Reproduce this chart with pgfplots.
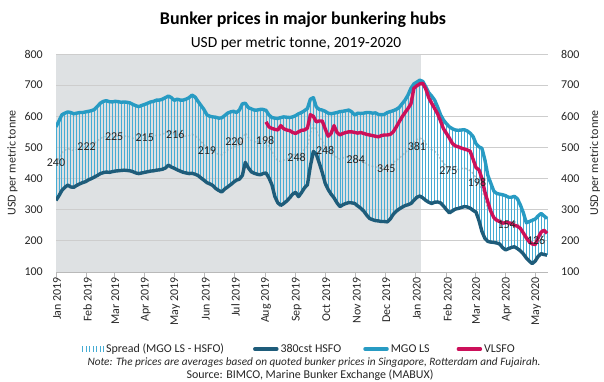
\documentclass[border=0pt]{standalone}
\usepackage{pgfplots}
\pgfplotsset{compat=1.18}
\usepackage{pgfplotstable}
\usepackage{fontspec}
\setmainfont{Carlito}
\definecolor{mgoc}{RGB}{40,155,195}
\definecolor{hsfoc}{RGB}{30,92,122}
\definecolor{vlsfoc}{RGB}{204,16,90}
\definecolor{spreadc}{RGB}{70,172,212}
\definecolor{shadec}{RGB}{222,225,227}
\definecolor{gridc}{RGB}{205,205,205}
\definecolor{txtc}{RGB}{38,38,38}

\pgfplotstableread{
d hsfo mgo vlsfo
0 330 566 nan
3 345 585 nan
6 362 605 nan
9 372 610 nan
12 379 614 nan
15 373 612 nan
18 372 608 nan
21 378 610 nan
24 383 612 nan
27 387 612 nan
30 390 614 nan
33 396 616 nan
36 400 618 nan
39 405 622 nan
42 410 632 nan
45 416 642 nan
48 419 648 nan
51 421 650 nan
54 420 647 nan
57 422 646 nan
60 424 648 nan
63 425 647 nan
66 426 645 nan
69 427 646 nan
72 426 645 nan
75 425 643 nan
78 422 638 nan
81 418 634 nan
84 416 631 nan
87 418 635 nan
90 420 638 nan
93 422 642 nan
96 424 646 nan
99 425 648 nan
102 427 652 nan
105 428 652 nan
108 430 655 nan
111 434 660 nan
114 443 665 nan
117 437 660 nan
120 433 651 nan
123 428 655 nan
126 424 652 nan
129 420 652 nan
132 418 655 nan
135 416 660 nan
138 417 668 nan
141 414 662 nan
144 410 648 nan
147 402 635 nan
150 395 622 nan
153 387 605 nan
156 383 600 nan
159 378 598 nan
162 368 597 nan
165 362 594 nan
168 357 595 nan
171 366 602 nan
174 373 610 nan
177 380 614 nan
180 388 616 nan
183 395 612 nan
186 398 620 nan
189 410 640 nan
192 452 642 nan
195 435 628 nan
198 422 624 nan
201 417 620 nan
204 414 620 nan
207 412 622 nan
210 416 622 nan
213 418 619 582
216 402 604 566
219 380 596 561
222 342 594 558
225 322 593 556
228 314 596 570
231 320 598 560
234 328 597 556
237 338 596 554
240 350 598 548
243 356 602 545
246 342 608 550
249 355 612 555
252 370 618 556
255 380 625 562
258 440 655 605
261 487 660 600
264 478 630 582
267 450 622 585
270 420 620 585
273 385 616 560
276 365 610 536
279 350 608 545
282 338 610 570
285 322 612 548
288 310 615 540
291 316 616 545
294 320 618 548
297 323 620 550
300 322 614 550
303 320 604 548
306 312 610 546
309 305 609 548
312 296 610 545
315 283 612 542
318 272 612 540
321 268 610 538
324 265 611 536
327 264 606 534
330 262 605 538
333 262 606 540
336 261 612 540
339 270 615 542
342 285 618 550
345 295 622 565
348 302 628 582
351 308 640 598
354 313 652 612
357 316 668 625
360 320 690 640
363 330 704 690
366 340 710 698
369 344 716 704
372 338 712 706
375 330 695 688
378 324 676 660
381 320 665 642
384 324 652 625
387 325 630 608
390 322 605 585
393 312 588 560
396 300 576 545
399 290 566 530
402 296 560 513
405 302 556 505
408 304 555 502
411 307 556 498
414 310 557 495
417 309 553 492
420 305 546 488
423 298 535 462
426 292 512 435
429 265 502 428
432 230 497 400
435 208 460 357
438 198 410 325
441 196 385 295
444 195 360 275
447 193 352 266
450 190 350 262
453 178 348 257
456 171 345 258
459 175 340 258
462 179 340 256
465 181 343 250
468 175 335 247
471 168 315 240
474 158 290 225
477 145 258 210
480 135 262 197
483 127 266 190
486 135 270 188
489 150 280 210
492 159 288 228
495 156 280 234
498 154 272 224
}\data

\pgfplotstableread{
d y lab
0 450 240
31 502 222
59 533 225
90 530 215
121 543 216
153 489 219
181 518 220
212 523 198
244 469 248
273 491 248
304 462 284
335 432 345
366 504 381
398 427 275
427 389 198
457 253 154
487 202 126
}\labels

\newcommand{\tf}{\fontsize{12}{14}\selectfont}

\begin{document}
\begin{tikzpicture}
\begin{axis}[
  set layers,
  at={(56bp,110bp)}, anchor=south west,
  scale only axis, width=492bp, height=218bp,
  xmin=0, xmax=499, ymin=100, ymax=800,
  axis x line*=bottom, axis y line*=left,
  y axis line style={draw=none}, ytick style={draw=none},
  x axis line style={color=gray!55, line width=0.8bp},
  xtick style={color=gray!55, line width=0.8bp},
  tick align=outside, major tick length=5bp,
  xtick={0,31,59,90,120,151,181,212,243,273,304,334,365,396,425,456,486},
  xticklabels={Jan 2019,Feb 2019,Mar 2019,Apr 2019,May 2019,Jun 2019,Jul 2019,Aug 2019,Sep 2019,Oct 2019,Nov 2019,Dec 2019,Jan 2020,Feb 2020,Mar 2020,Apr 2020,May 2020},
  xticklabel style={rotate=90, anchor=east, font=\tf, text=txtc, inner sep=0pt, yshift=-1bp},
  ytick={100,200,...,800},
  yticklabel style={font=\tf, text=txtc, inner sep=0pt, xshift=-8bp},
  ymajorgrids, grid style={color=gridc, line width=0.8bp},
  /pgf/number format/assume math mode=true,
  ylabel={USD per metric tonne},
  ylabel style={at={(axis description cs:-0.0884,0.5)}, anchor=center, font=\tf, text=txtc},
  clip mode=individual,
  legend columns=4,
  legend style={at={(axis description cs:0.053,-0.353)}, anchor=west, draw=none, fill=none,
    font=\tf, text=txtc, inner sep=0pt},
  legend cell align=left,
]
\addlegendimage{legend image code/.code={\draw[spreadc, line width=0.9bp]
    (0bp,-3bp) -- (0bp,3bp) (3.5bp,-3bp) -- (3.5bp,3bp) (7bp,-3bp) -- (7bp,3bp)
    (10.5bp,-3bp) -- (10.5bp,3bp) (14bp,-3bp) -- (14bp,3bp) (17.5bp,-3bp) -- (17.5bp,3bp)
    (21bp,-3bp) -- (21bp,3bp);}}
\addlegendentry{Spread (MGO LS - HSFO)\hspace*{27bp}}
\addplot[forget plot, fill=shadec, draw=none, on layer=axis background]
  coordinates {(0,100) (370,100) (370,800) (0,800)} -- cycle;
\addplot[forget plot, color=gray!50, dash pattern=on 2bp off 2bp, line width=1.5bp]
  table[x=d, y expr=(\thisrow{mgo}+\thisrow{hsfo})/2] {\data};
\addplot[forget plot, draw=none, mark=none,
  error bars/.cd, y dir=plus, y explicit, error mark=none,
  error bar style={draw=spreadc, line width=0.9bp}]
  table[x=d, y=hsfo, y error expr=\thisrow{mgo}-\thisrow{hsfo}] {\data};
\addplot[color=hsfoc, line width=3.4bp, line join=round,
  legend image code/.code={\draw[line width=3.5bp, line cap=round] (0bp,0bp) -- (22bp,0bp);}]
  table[x=d, y=hsfo] {\data};
\addlegendentry{380cst HSFO\hspace*{20bp}}
\addplot[color=mgoc, line width=3.4bp, line join=round,
  legend image code/.code={\draw[line width=3.5bp, line cap=round] (0bp,0bp) -- (22bp,0bp);}]
  table[x=d, y=mgo] {\data};
\addlegendentry{MGO LS\hspace*{25bp}}
\addplot[color=vlsfoc, line width=3.4bp, line join=round,
  legend image code/.code={\draw[line width=3.5bp, line cap=round] (0bp,0bp) -- (22bp,0bp);}]
  table[x=d, y=vlsfo] {\data};
\addlegendentry{VLSFO}
\addplot[forget plot, only marks, mark=none, nodes near coords, point meta=explicit symbolic,
  nodes near coords style={anchor=center, font=\tf, text=txtc, inner sep=0pt}]
  table[x=d, y=y, meta=lab] {\labels};
\end{axis}
\begin{axis}[
  at={(56bp,110bp)}, anchor=south west,
  scale only axis, width=492bp, height=218bp,
  xmin=0, xmax=499, ymin=100, ymax=800,
  axis x line=none, axis y line*=right,
  y axis line style={draw=none}, ytick style={draw=none},
  tick align=outside, major tick length=5bp,
  ytick={100,200,...,800},
  yticklabel style={font=\tf, text=txtc, inner sep=0pt, xshift=8bp},
  /pgf/number format/assume math mode=true,
  ylabel={USD per metric tonne},
  ylabel style={at={(axis description cs:1.0955,0.5)}, anchor=center, font=\tf, text=txtc},
]
\addplot[draw=none, forget plot] coordinates {(0,100) (499,800)};
\end{axis}
\node[font=\fontsize{18}{20}\selectfont\bfseries, text=black] at (303bp,362bp) {Bunker prices in major bunkering hubs};
\node[font=\fontsize{15.5}{17}\selectfont, text=black] at (296bp,339bp) {USD per metric tonne, 2019-2020};
\node[font=\fontsize{11.3}{13}\selectfont\itshape, text=txtc] at (314bp,19bp) {Note: The prices are averages based on quoted bunker prices in Singapore, Rotterdam and Fujairah.};
\node[font=\tf, text=txtc] at (310bp,6.5bp) {Source: BIMCO, Marine Bunker Exchange (MABUX)};
\pgfresetboundingbox
\path[use as bounding box] (0,0) rectangle (604bp,382bp);
\end{tikzpicture}
\end{document}
